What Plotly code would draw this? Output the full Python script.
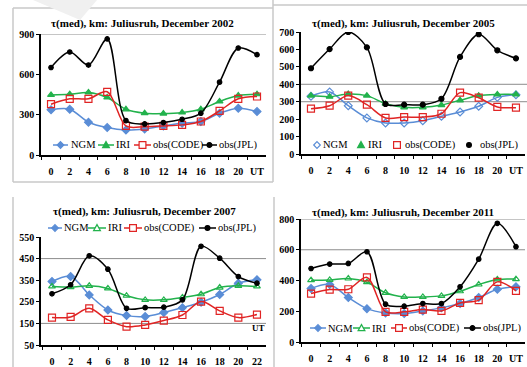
import plotly.graph_objects as go

W, H = 527, 367

hours = [0, 2, 4, 6, 8, 10, 12, 14, 16, 18, 20, 22]
ticks_ut = ["0", "2", "4", "6", "8", "10", "12", "14", "16", "18", "20", "UT"]
ticks_22 = ["0", "2", "4", "6", "8", "10", "12", "14", "16", "18", "20", "22"]

# December 2002
ngm_2002 = [336, 340, 244, 204, 186, 194, 216, 236, 249, 311, 348, 323]
iri_2002 = [447, 452, 465, 428, 340, 311, 308, 316, 340, 398, 442, 452]
code_2002 = [378, 418, 418, 470, 216, 211, 216, 224, 249, 328, 418, 435]
jpl_2002 = [651, 766, 669, 863, 256, 231, 241, 266, 311, 542, 796, 746]

# December 2005
ngm_2005 = [331, 356, 277, 207, 178, 178, 191, 216, 241, 274, 325, 340]
iri_2005 = [335, 329, 344, 335, 289, 268, 268, 281, 308, 335, 342, 342]
code_2005 = [260, 277, 335, 283, 207, 212, 212, 231, 352, 323, 270, 266]
jpl_2005 = [492, 602, 700, 612, 287, 283, 283, 317, 557, 687, 595, 549]

# December 2007
ngm_2007 = [344, 367, 282, 212, 186, 182, 200, 223, 248, 284, 336, 352]
iri_2007 = [321, 318, 324, 312, 278, 259, 259, 270, 285, 316, 324, 321]
code_2007 = [177, 180, 220, 166, 135, 143, 163, 189, 251, 208, 177, 191]
jpl_2007 = [287, 329, 463, 401, 220, 223, 225, 259, 507, 452, 367, 336]

# December 2011
ngm_2011 = [348, 374, 289, 217, 189, 185, 202, 222, 250, 289, 343, 359]
iri_2011 = [402, 404, 413, 389, 320, 293, 293, 300, 330, 374, 407, 409]
code_2011 = [315, 341, 343, 420, 196, 196, 211, 202, 254, 272, 391, 333]
jpl_2011 = [478, 507, 511, 587, 246, 233, 250, 250, 359, 539, 772, 620]

titles = ["τ(med), km: Juliusruh, December 2002",
          "τ(med), km: Juliusruh, December 2005",
          "τ(med), km: Juliusruh, December 2007",
          "τ(med), km: Juliusruh, December 2011"]
names = ["NGM", "IRI", "obs(CODE)", "obs(JPL)"]

BLUE = "#5A8DD6"
GREEN = "#22B24C"
RED = "#E02424"
BLACK = "#000000"
SERIF = "Liberation Serif, Times New Roman, serif"
colors = [BLUE, GREEN, RED, BLACK]


def px(x):
    return x / W


def py(y):
    return 1 - y / H


fig = go.Figure()

panels = [
    dict(series=[ngm_2002, iri_2002, code_2002, jpl_2002], ax="",
         markers=[("diamond", 6), ("triangle-up", 6), ("square-open", 7), ("circle", 4.5)],
         legend_y=145, legend_lines=True,
         legend_items=[(53, 68, 70), (98, 114, 115), (134, 151, 152), (202, 217, 218)]),
    dict(series=[ngm_2005, iri_2005, code_2005, jpl_2005], ax="2",
         markers=[("diamond-open", 6), ("triangle-up", 6), ("square-open", 7), ("circle", 5)],
         legend_y=145, legend_lines=False,
         legend_items=[(314, 320, 322), (358, 364, 367), (394, 400, 404), (466, 472, 479)]),
    dict(series=[ngm_2007, iri_2007, code_2007, jpl_2007], ax="3",
         markers=[("diamond", 6), ("triangle-up-open", 6), ("square-open", 7), ("circle", 4.5)],
         legend_y=228, legend_lines=True,
         legend_items=[(48, 62, 63), (88, 106, 107), (124, 142, 143), (199, 216, 217)]),
    dict(series=[ngm_2011, iri_2011, code_2011, jpl_2011], ax="4",
         markers=[("diamond", 6), ("triangle-up-open", 6), ("square-open", 7), ("circle", 4.5)],
         legend_y=328, legend_lines=True,
         legend_items=[(310, 326, 327), (353, 370, 371), (391, 407, 408), (464, 481, 482)]),
]

for p in panels:
    xa = "x" + p["ax"]
    ya = "y" + p["ax"]
    for vals, name, col, (sym, size) in zip(p["series"], names, colors, p["markers"]):
        fig.add_trace(go.Scatter(
            x=hours, y=vals, name=name, mode="lines+markers",
            line=dict(color=col, width=1.5, shape="spline", smoothing=0.9),
            marker=dict(symbol=sym, size=size, color=col, line=dict(color=col, width=1.2)),
            xaxis=xa, yaxis=ya, showlegend=False))

tickfont = dict(family=SERIF, size=10, color="black", weight="bold")


def xaxis(domain, rng, labels, anchor):
    return dict(domain=domain, range=rng, tickmode="array", tickvals=hours,
                ticktext=labels, ticks="", showgrid=False, zeroline=False,
                showline=True, linecolor="black", linewidth=1.5,
                tickfont=tickfont, ticklabelstandoff=6, anchor=anchor,
                minor=dict(tickmode="array", tickvals=[h - 1 for h in hours] + [23],
                           ticks="outside", ticklen=3, tickcolor="black", tickwidth=1))


def yaxis(domain, rng, dt, anchor):
    return dict(domain=domain, range=rng, dtick=dt, tick0=rng[0], showgrid=False,
                zeroline=False, showline=True, linecolor="black", linewidth=1.5,
                ticks="outside", ticklen=3, tickcolor="black", tickfont=tickfont,
                anchor=anchor)


fig.update_layout(
    width=W, height=H, margin=dict(l=0, r=0, t=0, b=0, autoexpand=False),
    paper_bgcolor="white", plot_bgcolor="rgba(0,0,0,0)", showlegend=False,
    xaxis=xaxis([px(41), px(266)], [-1.07, 22.96], ticks_ut, "y"),
    yaxis=yaxis([py(155), py(34)], [0, 900], 300, "x"),
    xaxis2=xaxis([px(301), px(525)], [-1.07, 22.97], ticks_ut, "y2"),
    yaxis2=yaxis([py(154), py(32)], [0, 700], 100, "x2"),
    xaxis3=xaxis([px(41), px(266)], [-1.18, 22.97], ticks_22, "y3"),
    yaxis3=yaxis([py(345), py(237)], [50, 550], 100, "x3"),
    xaxis4=xaxis([px(301), px(525)], [-1.08, 22.97], ticks_ut, "y4"),
    yaxis4=yaxis([py(342), py(219)], [0, 800], 200, "x4"),
)

# titles
for t, (cx, cy) in zip(titles, [(142, 23), (403, 23), (144, 211), (403, 212)]):
    fig.add_annotation(text=t, x=px(cx), y=py(cy), xref="paper", yref="paper",
                       showarrow=False, xanchor="center", yanchor="middle",
                       font=dict(family=SERIF, size=11, color="black", weight="bold"))

fig.add_annotation(text="UT", x=px(258), y=py(335), xref="paper", yref="paper",
                   showarrow=False, font=dict(family=SERIF, size=9, color="black", weight="bold"))

shapes = []


def glyph(sym, cx, cy, col):
    s = []
    filled = not sym.endswith("open")
    fill = col if filled else "white"
    ln = dict(color=col, width=1.2)
    base = sym.replace("-open", "")
    if base == "diamond":
        r = 3.3
        path = (f"M {px(cx)},{py(cy - r)} L {px(cx + r)},{py(cy)} "
                f"L {px(cx)},{py(cy + r)} L {px(cx - r)},{py(cy)} Z")
        s.append(dict(type="path", path=path, fillcolor=fill, line=ln))
    elif base == "triangle-up":
        r = 3.4
        path = (f"M {px(cx)},{py(cy - r)} L {px(cx + r)},{py(cy + r * 0.8)} "
                f"L {px(cx - r)},{py(cy + r * 0.8)} Z")
        s.append(dict(type="path", path=path, fillcolor=fill, line=ln))
    elif base == "square":
        r = 3.4
        s.append(dict(type="rect", x0=px(cx - r), x1=px(cx + r), y0=py(cy + r), y1=py(cy - r),
                      fillcolor=fill, line=ln))
    else:
        r = 2.4
        s.append(dict(type="circle", x0=px(cx - r), x1=px(cx + r), y0=py(cy + r), y1=py(cy - r),
                      fillcolor=fill, line=ln))
    for d in s:
        d.update(xref="paper", yref="paper", layer="above")
    return s


legfont = dict(family=SERIF, size=10.5, color="black")
for p in panels:
    ly = p["legend_y"]
    for (x0, x1, tx), name, col, (sym, size) in zip(p["legend_items"], names, colors, p["markers"]):
        if p["legend_lines"]:
            shapes.append(dict(type="line", xref="paper", yref="paper",
                               x0=px(x0), x1=px(x1), y0=py(ly), y1=py(ly),
                               line=dict(color=col, width=1.5), layer="above"))
        shapes.extend(glyph(sym, (x0 + x1) / 2, ly, col))
        fig.add_annotation(text=name, x=px(tx), y=py(ly), xref="paper", yref="paper",
                           showarrow=False, xanchor="left", yanchor="middle",
                           font=legfont, borderpad=0)

# horizontal gridlines
for ax, vals, x1 in [("", [900], 1.0), ("2", [400, 300], 1.01), ("3", [450, 150], 1.0), ("4", [800, 600], 1.0)]:
    for v in vals:
        shapes.append(dict(type="line", xref=("x" + ax + " domain"), yref=("y" + ax),
                           x0=0, x1=x1, y0=v, y1=v, layer="below",
                           line=dict(color="#8c8c8c", width=1)))
# panel frames
frame = dict(color="#c9c9c9", width=1.5)
for (x0, y0, x1, y1) in [(13, 8, 13, 182), (13, 8, 273, 8), (13, 182, 273, 182),
                         (273, 0, 273, 182), (273, 5, 527, 5),
                         (13, 197, 13, 367), (274, 197, 274, 367)]:
    shapes.append(dict(type="line", xref="paper", yref="paper",
                       x0=px(x0), y0=py(y0), x1=px(x1), y1=py(y1),
                       line=frame, layer="below"))
# faint watermark
shapes.append(dict(type="path", xref="paper", yref="paper",
                   path=f"M {px(33)},{py(0)} L {px(97)},{py(0)} L {px(80)},{py(20)} Z",
                   fillcolor="#f0f0f0", line=dict(width=0), layer="below"))
fig.update_layout(shapes=shapes)

fig.write_html("out.html", config={"displayModeBar": False},
               post_script="document.body.style.margin='0';document.body.style.overflow='hidden';")
